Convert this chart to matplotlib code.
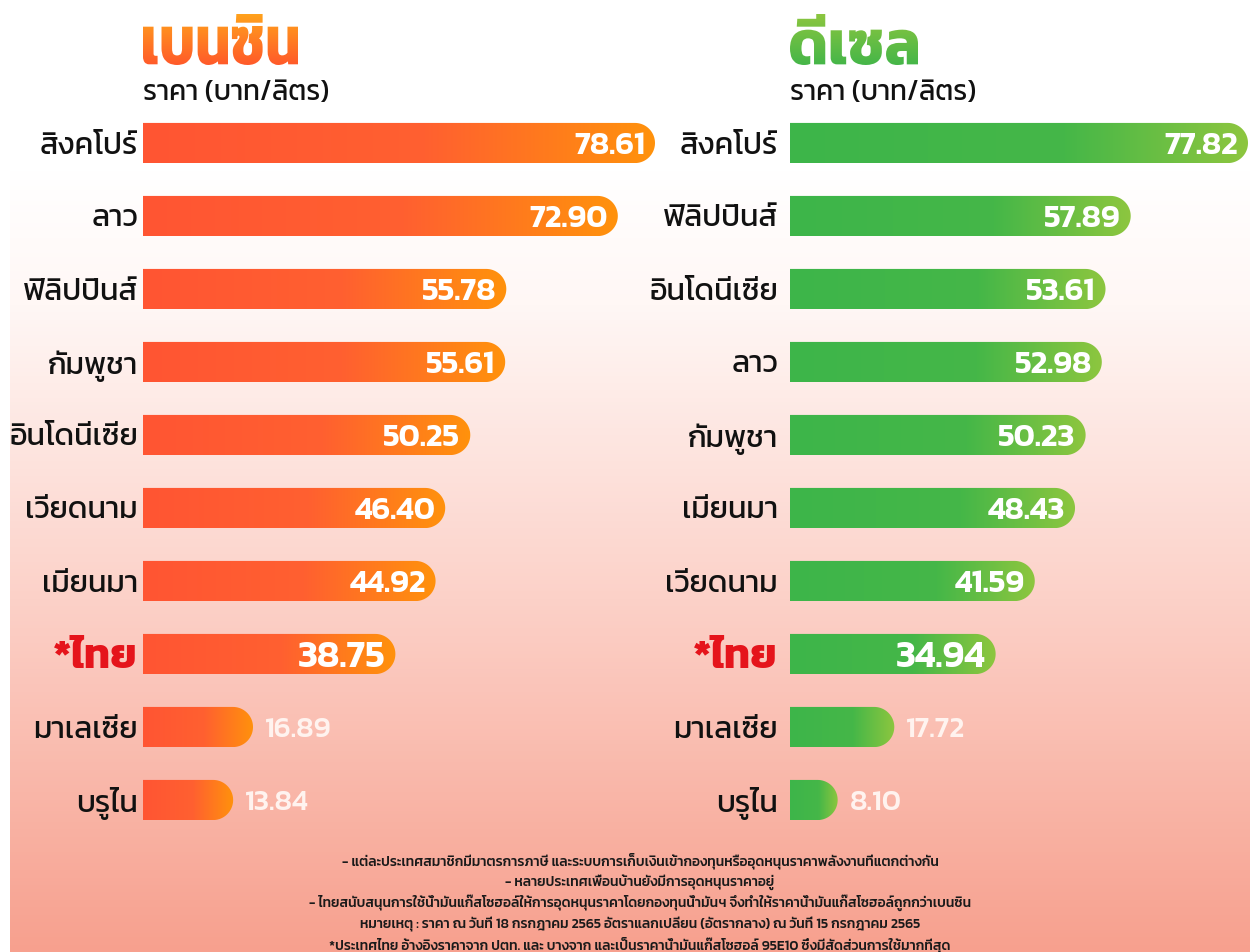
import numpy as np
import matplotlib
matplotlib.use('Agg')
import matplotlib.pyplot as plt
from matplotlib import font_manager as fm
from matplotlib.path import Path
from matplotlib.patches import PathPatch
from matplotlib.colors import LinearSegmentedColormap
from matplotlib.textpath import TextPath
from matplotlib.font_manager import FontProperties

# ---------------- data ----------------
petrol_title = 'เบนซิน'
diesel_title = 'ดีเซล'
unit_label = 'ราคา (บาท/ลิตร)'
petrol_countries = ['สิงคโปร์', 'ลาว', 'ฟิลิปปินส์', 'กัมพูชา', 'อินโดนีเซีย',
                    'เวียดนาม', 'เมียนมา', '*ไทย', 'มาเลเซีย', 'บรูไน']
petrol_prices = [78.61, 72.90, 55.78, 55.61, 50.25, 46.40, 44.92, 38.75, 16.89, 13.84]
diesel_countries = ['สิงคโปร์', 'ฟิลิปปินส์', 'อินโดนีเซีย', 'ลาว', 'กัมพูชา',
                    'เมียนมา', 'เวียดนาม', '*ไทย', 'มาเลเซีย', 'บรูไน']
diesel_prices = [77.82, 57.89, 53.61, 52.98, 50.23, 48.43, 41.59, 34.94, 17.72, 8.10]
highlight = '*ไทย'
notes = [
    '- แต่ละประเทศสมาชิกมีมาตรการภาษี และระบบการเก็บเงินเข้ากองทุนหรืออุดหนุนราคาพลังงานที่แตกต่างกัน',
    '- หลายประเทศเพื่อนบ้านยังมีการอุดหนุนราคาอยู่',
    '- ไทยสนับสนุนการใช้น้ำมันแก๊สโซฮอล์ให้การอุดหนุนราคาโดยกองทุนน้ำมันฯ จึงทำให้ราคาน้ำมันแก๊สโซฮอล์ถูกกว่าเบนซิน',
    'หมายเหตุ : ราคา ณ วันที่ 18 กรกฎาคม 2565 อัตราแลกเปลี่ยน (อัตรากลาง) ณ วันที่ 15 กรกฎาคม 2565',
    '*ประเทศไทย อ้างอิงราคาจาก ปตท. และ บางจาก และเป็นราคาน้ำมันแก๊สโซฮอล์ 95E10 ซึ่งมีสัดส่วนการใช้มากที่สุด',
]

# ---------------- fonts ----------------
installed = {f.name for f in fm.fontManager.ttflist}
THAI = next((n for n in ['Kanit', 'Prompt', 'Noto Sans Thai', 'Loma'] if n in installed), 'DejaVu Sans')
FAM = [THAI, 'DejaVu Sans']
NUMFAM = [THAI, 'Roboto', 'DejaVu Sans']

W, H = 1250, 952
fig = plt.figure(figsize=(W / 100, H / 100), dpi=100)

# background (y axis in pixels, up = top of figure)
bg = fig.add_axes([0, 0, 1, 1], zorder=-5)
bg.axis('off')
bgcmap = LinearSegmentedColormap.from_list('bg', [(0, '#ffffff'), (0.18, '#ffffff'), (0.32, '#fff7f5'),
                                                   (0.63, '#fcd1c8'), (1, '#f7a08e')])
grad = np.linspace(0, 1, 256)[:, None]
bg.imshow(grad, cmap=bgcmap, extent=(10, W, 0, H), aspect='auto', origin='upper')
bg.set_xlim(0, W)
bg.set_ylim(0, H)

row_top, row_h, nrows = 106.5, 73.0, 10
bar_frac = 0.55


def gradient_text(s, box, colors):
    x0, y0, x1, y1 = box  # pixel box, y measured from top
    tp = TextPath((0, 0), s, size=60, prop=FontProperties(family=FAM, weight='bold'))
    verts = tp.vertices.copy()
    e = Path(verts, tp.codes).get_extents()
    verts[:, 0] = x0 + (verts[:, 0] - e.x0) * (x1 - x0) / e.width
    verts[:, 1] = (H - y1) + (verts[:, 1] - e.y0) * (y1 - y0) / e.height
    p = Path(verts, tp.codes)
    patch = PathPatch(p, facecolor='none', edgecolor='none')
    bg.add_patch(patch)
    cmap = LinearSegmentedColormap.from_list('t', colors)
    im = bg.imshow(np.linspace(0, 1, 128)[:, None], cmap=cmap,
                   extent=(x0, x1, H - y1, H - y0), origin='upper', aspect='auto')
    im.set_clip_path(patch)
    bg.set_xlim(0, W)
    bg.set_ylim(0, H)


def panel(x0_px, x1_px, xmax, countries, values, colors, title, title_box, title_colors, label_x):
    ax = fig.add_axes([x0_px / W, 1 - (row_top + nrows * row_h) / H, (x1_px - x0_px) / W, nrows * row_h / H])
    ax.axis('off')
    pxx = (x1_px - x0_px) / xmax
    hh = bar_frac / 2
    rx = hh * row_h / pxx
    cmap = LinearSegmentedColormap.from_list('b', colors)
    g = np.linspace(0, 1, 256)[None, :]
    th = np.linspace(-np.pi / 2, np.pi / 2, 40)
    for i, (c, v) in enumerate(zip(countries, values)):
        xs = [0, v - rx] + list(v - rx + rx * np.cos(th)) + [v - rx, 0]
        ys = [i - hh, i - hh] + list(i + hh * np.sin(th)) + [i + hh, i + hh]
        patch = PathPatch(Path(np.column_stack([xs, ys]), closed=False), facecolor='none', edgecolor='none')
        ax.add_patch(patch)
        im = ax.imshow(g, cmap=cmap, extent=(0, v, i + hh, i - hh), aspect='auto', origin='upper')
        im.set_clip_path(patch)
        hi = (c == highlight)
        if v >= 25:
            ax.text(v - 10 / pxx, i, f'{v:.2f}', ha='right', va='center_baseline', color='white',
                    fontsize=27 if hi else 23, fontweight='semibold', family=NUMFAM)
        else:
            ax.text(v + 12 / pxx, i, f'{v:.2f}', ha='left', va='center_baseline', color='#fff3ef',
                    fontsize=21, fontweight='medium', family=NUMFAM)
        fig.text(label_x / W, 1 - (row_top + (i + 0.5) * row_h) / H, c, ha='right', va='center_baseline',
                 fontsize=30 if hi else 22, fontweight='bold' if hi else 'normal',
                 color='#e5141b' if hi else '#111111', family=FAM)
    ax.set_xlim(0, xmax)
    ax.set_ylim(nrows - 0.5, -0.5)
    gradient_text(title, title_box, title_colors)
    fig.text(x0_px / W, 1 - 90 / H, unit_label, ha='left', va='center_baseline', fontsize=20,
             color='#111111', family=FAM)


panel(143, 143 + 512 * 79 / 78.61, 79, petrol_countries, petrol_prices,
      [(0, '#ff5533'), (0.55, '#ff6030'), (1, '#ff920c')], petrol_title, (143, 14, 298, 65),
      [(0, '#ffa21c'), (1, '#ff5a2a')], 138)
panel(790, 790 + 458 * 78 / 77.82, 78, diesel_countries, diesel_prices,
      [(0, '#3db54a'), (0.6, '#45b748'), (1, '#8dc63f')], diesel_title, (790, 14, 918, 65),
      [(0, '#8cc63f'), (1, '#45b649')], 778)

for k, line in enumerate(notes):
    fig.text(640 / W, 1 - (859 + k * 21) / H, line, ha='center', va='center_baseline', fontsize=10,
             fontweight='medium', color='#1a1a1a', family=FAM)

fig.savefig('out.png', dpi=100)
